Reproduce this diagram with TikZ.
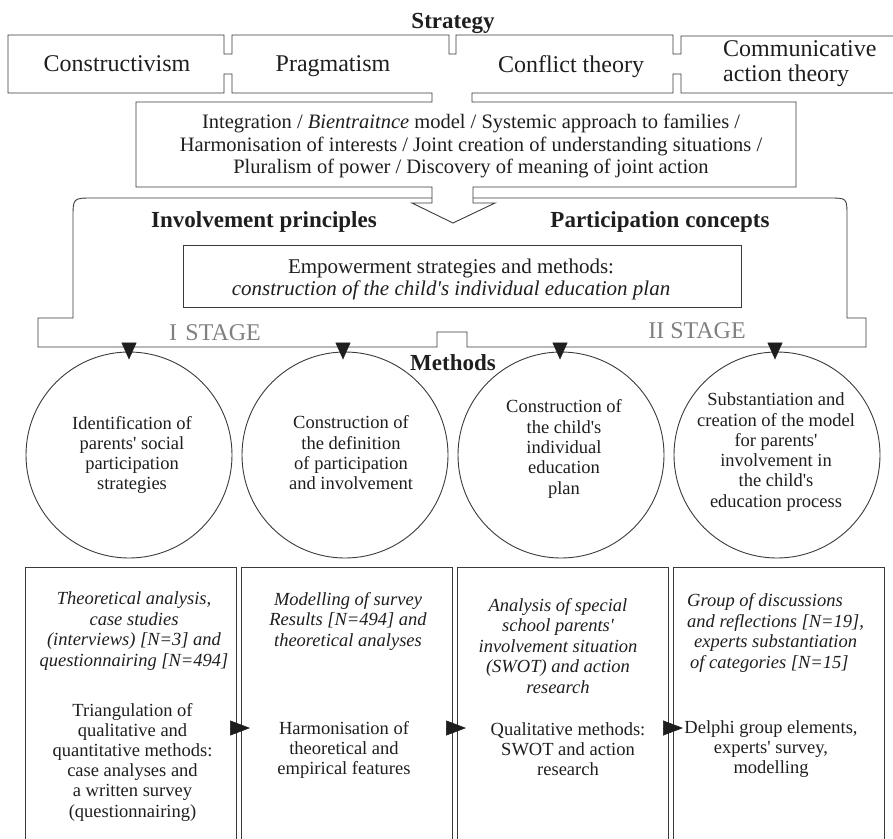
\documentclass[tikz,border=0pt]{standalone}
\usepackage{fontspec}
\setmainfont{Liberation Serif}[Ligatures=TeXOff]
\usetikzlibrary{arrows.meta}
\definecolor{lc}{HTML}{3A3A3A}
\definecolor{tc}{HTML}{1E1E1E}
\definecolor{gc}{HTML}{808080}
\newcommand\myfs[2]{\fontsize{#1}{#2}\selectfont}
\begin{document}
\begin{tikzpicture}[x=1pt,y=-1pt,
  ln/.style={draw=lc,line width=0.9pt},
  txt/.style={inner sep=0pt,align=center,text=tc},
  strat/.style={txt,font=\myfs{24}{25}},
  head/.style={txt,font=\bfseries\myfs{23}{25}},
  stagelbl/.style={inner sep=0pt,text=gc,font=\myfs{24}{25}},
  circ/.style={ln,circle,minimum size=206pt,inner sep=0pt},
  ctext/.style={txt,font=\myfs{18.5}{20.3}},
  colbox/.style={ln,rectangle,minimum width=211pt,minimum height=320pt,anchor=north west,inner sep=0pt},
  itext/.style={txt,font=\itshape\myfs{18.5}{20.5}},
  ntext/.style={txt,font=\myfs{18.5}{20.2}},
  dtip/.style={draw=tc,line width=0.6pt,-{Triangle[width=15pt,length=17pt]},fill=tc},
  rtip/.style={draw=tc,line width=0.6pt,-{Triangle[width=15pt,length=20pt]},fill=tc}
]
\useasboundingbox (0,0) rectangle (893,838);
\clip (0,0) rectangle (893,838);

% strategy row + integration box + arrow
\draw[ln] (900,36) -- (681,36) -- (681,54) -- (673,54) -- (673,35) -- (456,35) -- (456,54)
  -- (449,54) -- (449,35) -- (232,35) -- (232,54) -- (224,54) -- (224,35) -- (8,35)
  -- (8,93) -- (224,93) -- (224,74) -- (232,74) -- (232,93) -- (432,93) -- (432,102)
  -- (136,102) -- (136,187) -- (432,187) -- (432,203) -- (412,203) -- (453,223)
  -- (495,203) -- (473,203) -- (473,187) -- (796,187) -- (796,102) -- (472,102)
  -- (472,93) -- (673,93) -- (673,74) -- (681,74) -- (681,93) -- (900,93);

% big shape with stage bar
\draw[ln] (432,198) -- (93,198) .. controls (73,198) .. (73,218) -- (73,318) -- (38,318)
  -- (38,347) -- (437,347) -- (437,332) -- (467,332) -- (467,347) -- (866,347)
  -- (866,318) -- (847,318) -- (847,216) .. controls (847,198) .. (829,198) -- (473,198);

% texts top
\node[head] (strategy) at (453,23) {Strategy};
\node[strat] (constr) at (117,64) {Constructivism};
\node[strat] (pragm) at (333,66) {Pragmatism};
\node[strat] (confl) at (571,67) {Conflict theory};
\node[strat,align=left,anchor=west] (commun) at (723,64) {Communicative\\action theory};

\node[txt,font=\myfs{20.5}{22.5}] (integr) at (471,146)
  {Integration / \textit{Bientraitnce} model / Systemic approach to families /\\
   Harmonisation of interests / Joint creation of understanding situations /\\
   Pluralism of power / Discovery of meaning of joint action};

\node[head] (invol) at (264,222) {Involvement principles};
\node[head] (partic) at (660,222) {Participation concepts};

\node[ln,rectangle,minimum width=558pt,minimum height=62pt,inner sep=0pt] (empbox) at (462,276) {};
\node[txt,font=\myfs{21}{22}] (emptext) at (451,279)
  {Empowerment strategies and methods:\\ \textit{construction of the child's individual education plan}};

\node[stagelbl] (st1) at (215,333) {I\hspace{0.35em}STAGE};
\node[stagelbl] (st2) at (697,331) {II STAGE};
\node[head] (methods) at (453,363) {Methods};

% circles
\node[circ] (c1) at (129,455) {};
\node[circ] (c2) at (345,455) {};
\node[circ] (c3) at (561,455) {};
\node[circ] (c4) at (777,455) {};

\node[ctext] (t1) at (132,455) {Identification of\\parents' social\\participation\\strategies};
\node[ctext] (t2) at (351,453) {Construction of\\the definition\\of participation\\and involvement};
\node[ctext] (t3) at (564,449) {Construction of\\the child's\\individual\\education\\plan};
\node[ctext] (t4) at (776,452) {Substantiation and\\creation of the model\\for parents'\\involvement in\\the child's\\education process};

\coordinate (s1) at (129,343);
\coordinate (s2) at (343,343);
\coordinate (s3) at (560,343);
\coordinate (s4) at (775,343);
\draw[dtip,shorten >=-8pt] (s1) -- (c1.north);
\draw[dtip,shorten >=-8pt] (s2) -- ([xshift=-2pt]c2.north);
\draw[dtip,shorten >=-8pt] (s3) -- ([xshift=-1pt]c3.north);
\draw[dtip,shorten >=-8pt] (s4) -- ([xshift=-2pt]c4.north);

% bottom columns
\node[colbox] (b1) at (25,567) {};
\node[colbox] (b2) at (241,567) {};
\node[colbox] (b3) at (457,567) {};
\node[colbox] (b4) at (673,567) {};

\node[itext] (i1) at (134,631) {Theoretical analysis,\\case studies\\(interviews) [N=3] and\\questionnairing [N=494]};
\node[ntext] (n1) at (132.5,762) {Triangulation of\\qualitative and\\quantitative methods:\\case analyses and\\a written survey\\(questionnairing)};

\node[itext] (i2) at (348,621) {Modelling of survey\\Results [N=494] and\\theoretical analyses};
\node[ntext] (n2) at (344,750) {Harmonisation of\\theoretical and\\empirical features};

\node[itext] (i3) at (558,646) {Analysis of special\\school parents'\\involvement situation\\(SWOT) and action\\research};
\node[ntext] (n3) at (568,749) {Qualitative methods:\\SWOT and action\\research};

\node[itext,align=left,anchor=west] (i4) at (687,633) {Group of discussions\\and reflections [N=19],\\\hspace{7pt}experts substantiation\\\hspace{3pt}of categories [N=15]};
\node[ntext] (n4) at (771,749) {Delphi group elements,\\experts' survey,\\modelling};

\coordinate (h1) at (230,728);
\coordinate (k1) at (250,728);
\coordinate (h2) at (447,728);
\coordinate (k2) at (466,728);
\coordinate (h3) at (663,728);
\coordinate (k3) at (683,728);
\draw[rtip] (h1) -- (k1);
\draw[rtip] (h2) -- (k2);
\draw[rtip] (h3) -- (k3);
\end{tikzpicture}
\end{document}
